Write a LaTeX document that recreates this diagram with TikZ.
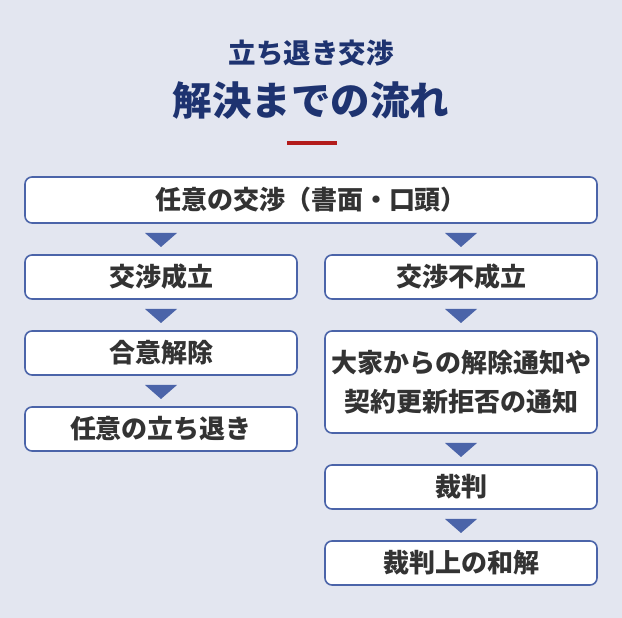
\documentclass[tikz,border=0pt]{standalone}
\usepackage{fontspec}
\setmainfont{Noto Sans CJK JP}
\usetikzlibrary{calc}
\definecolor{bgc}{HTML}{E3E6F0}
\definecolor{navy}{HTML}{1E3370}
\definecolor{frame}{HTML}{4B64A9}
\definecolor{txt}{HTML}{333333}
\definecolor{redline}{HTML}{B31B1B}
\tikzset{
 box/.style={draw=frame, line width=1.6pt, fill=white, rounded corners=7pt, text=txt,
  font=\bfseries\fontsize{26}{39}\selectfont, align=center, inner sep=0pt},
 tri/.style={fill=frame}
}
\newcommand{\downtri}[2]{\fill[tri] ($(#1.south -| #2.north)!.5!(#2.north)$) ++(-16,6) -- ++(32,0) -- ++(-16,-14) -- cycle;}
\begin{document}
\begin{tikzpicture}[x=1pt, y=1pt]
\fill[bgc] (0,0) rectangle (622,618);
\useasboundingbox (0,0) rectangle (622,618);
\node[text=navy, font=\bfseries\fontsize{27.5}{27.5}\selectfont] (t1) at (311,565) {立ち退き交渉};
\node[text=navy, font=\bfseries\fontsize{39.5}{39.5}\selectfont] (t2) at (311,517) {解決までの流れ};
\draw[redline, line width=4pt] (287,475)--(337,475);
\node[box, minimum width=572pt, minimum height=46pt] (talk) at (311,418) {任意の交渉（書面・口頭）};
\node[box, minimum width=272pt, minimum height=44pt] (ok) at (161,341) {交渉成立};
\node[box, minimum width=272pt, minimum height=44pt] (agree) at (161,265) {合意解除};
\node[box, minimum width=272pt, minimum height=44pt] (leave) at (161,189) {任意の立ち退き};
\node[box, minimum width=272pt, minimum height=44pt] (ng) at (461,341) {交渉不成立};
\node[box, minimum width=272pt, minimum height=102pt] (notice) at (461,236) {大家からの解除通知や\\契約更新拒否の通知};
\node[box, minimum width=272pt, minimum height=44pt] (court) at (461,131) {裁判};
\node[box, minimum width=272pt, minimum height=44pt] (settle) at (461,55) {裁判上の和解};
\downtri{talk}{ok}
\downtri{talk}{ng}
\downtri{ok}{agree}
\downtri{agree}{leave}
\downtri{ng}{notice}
\downtri{notice}{court}
\downtri{court}{settle}
\end{tikzpicture}
\end{document}
